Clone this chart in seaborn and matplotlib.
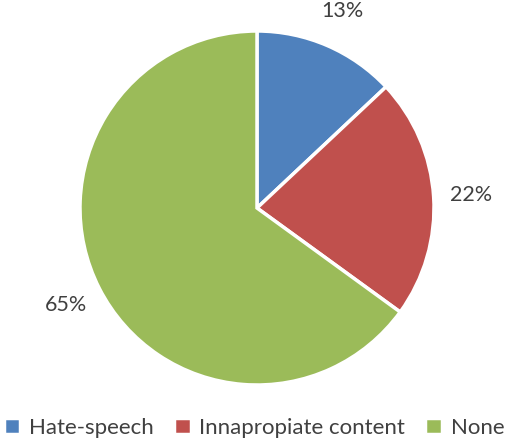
import matplotlib
matplotlib.use("Agg")
import matplotlib.pyplot as plt
import seaborn as sns

# Datos del grafico
categories = ["Hate-speech", "Innapropiate content", "None"]
shares = [13, 22, 65]
colors = ["#4F81BD", "#C0504D", "#9BBB59"]

sns.set_style("white")
plt.rcParams['font.family'] = ['Lato', 'DejaVu Sans']

fig = plt.figure(figsize=(5.08, 4.43), dpi=100)
# eje cuadrado centrado en el pastel
ax = fig.add_axes([80 / 508, 58 / 443, 354 / 508, 354 / 443])

wedges, texts, autotexts = ax.pie(
    shares, colors=colors, startangle=90, counterclock=False, radius=1,
    autopct=lambda p: f"{p:.0f}%", pctdistance=1.21,
    wedgeprops=dict(edgecolor="white", linewidth=2.5),
    textprops=dict(color="#404040", fontsize=15.5),
)
ax.set_xlim(-1, 1)
ax.set_ylim(-1, 1)
ax.set_aspect("equal")
ax.axis("off")

fig.legend(wedges, categories, loc="center", bbox_to_anchor=(0.5, 1 - 428 / 443),
           ncol=3, frameon=False, fontsize=16, labelcolor="#404040",
           handlelength=0.75, handleheight=0.75, handletextpad=0.4, columnspacing=0.9)

fig.savefig("out.png", dpi=100)
plt.close(fig)
